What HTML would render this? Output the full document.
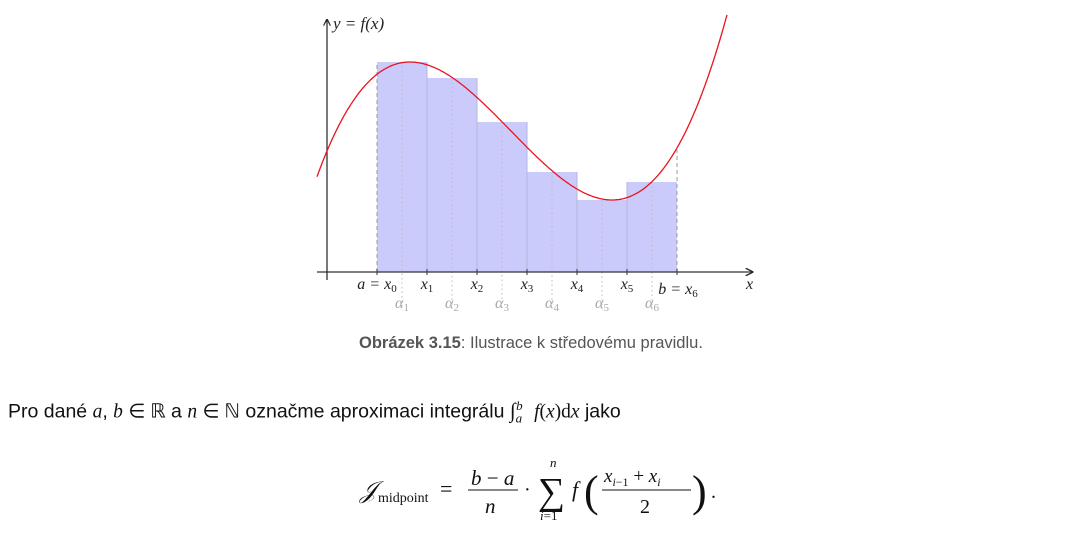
<!DOCTYPE html>
<html><head><meta charset="utf-8"><style>
body{margin:0;width:1076px;height:535px;background:#fff;overflow:hidden;position:relative;font-family:"Liberation Sans Narrow","Liberation Sans",sans-serif;}
.t{position:absolute;white-space:nowrap}
.m{font-family:"Liberation Serif",serif;font-style:italic}
.r{font-family:"Liberation Serif",serif;font-style:normal}
</style></head><body>
<svg id="chart" width="1076" height="330" style="position:absolute;left:0;top:0" font-family="Liberation Serif, serif">
<defs><marker id="ar" markerWidth="6" markerHeight="6" refX="5" refY="3" orient="auto"><path d="M0,0 L6,3 L0,6" fill="none" stroke="#222" stroke-width="1"/></marker></defs>
<g id="bars"></g><g id="grid"></g>
<line x1="317" y1="272" x2="752" y2="272" stroke="#333" stroke-width="1.3" marker-end="url(#ar)"/>
<line x1="327" y1="280" x2="327" y2="20" stroke="#222" stroke-width="1.2" marker-end="url(#ar)"/>
<path id="curve" fill="none" stroke="#e8141e" stroke-width="1.3"/>
<text x="333" y="29" font-size="17" font-style="italic" fill="#222">y = f(x)</text>
<text x="746" y="289" font-size="16" font-style="italic" fill="#222">x</text>
<g id="labels"></g>
</svg>
<div class="t" style="left:359px;top:334px;font-size:16.5px;color:#555"><b>Obrázek 3.15</b>: Ilustrace k středovému pravidlu.</div>
<div class="t" style="left:8px;top:398px;font-size:19.5px;color:#111">Pro dané <span class="m">a</span>, <span class="m">b</span> <span class="r">∈ ℝ</span> a <span class="m">n</span> <span class="r">∈ ℕ</span> označme aproximaci integrálu <span class="r" style="font-size:21px">∫</span><sub class="m" style="font-size:13px">a</sub><sup class="m" style="font-size:13px;position:relative;left:-6px">b</sup> <span class="m">f</span><span class="r">(</span><span class="m">x</span><span class="r">)d</span><span class="m">x</span> jako</div>
<svg width="400" height="80" style="position:absolute;left:340px;top:450px" font-family="Liberation Serif, serif" fill="#111">
<text x="20" y="48" font-size="24" font-style="italic">𝒥</text>
<text x="38" y="52" font-size="14">midpoint</text>
<text x="100" y="46" font-size="22">=</text>
<text x="131" y="35" font-size="21"><tspan font-style="italic">b</tspan> − <tspan font-style="italic">a</tspan></text>
<line x1="128" y1="40" x2="178" y2="40" stroke="#111" stroke-width="1"/>
<text x="145" y="63" font-size="21" font-style="italic">n</text>
<text x="184" y="46" font-size="20">·</text>
<text x="198" y="54" font-size="38">∑</text>
<text x="210" y="17" font-size="13" font-style="italic">n</text>
<text x="200" y="70" font-size="13"><tspan font-style="italic">i</tspan>=1</text>
<text x="232" y="47" font-size="22" font-style="italic">f</text>
<text x="244" y="56" font-size="44">(</text>
<text x="264" y="32" font-size="19"><tspan font-style="italic">x</tspan><tspan font-size="12" font-style="italic" dy="4">i</tspan><tspan font-size="12" dy="0">−1</tspan><tspan dy="-4"> + </tspan><tspan font-style="italic">x</tspan><tspan font-size="12" font-style="italic" dy="4">i</tspan></text>
<line x1="262" y1="40" x2="351" y2="40" stroke="#111" stroke-width="1"/>
<text x="300" y="63" font-size="20">2</text>
<text x="352" y="56" font-size="44">)</text>
<text x="371" y="48" font-size="20">.</text>
</svg>
<script>
const nodes=["x0","x1","x2","x3","x4","x5","x6"];
const nodeX=[1,2,3,4,5,6,7];
const midX=[1.5,2.5,3.5,4.5,5.5,6.5];
const barHeights=[4.2,3.88,3.0,2.0,1.44,1.8];
const ox=327,oy=272,s=50;
const X=v=>ox+v*s, Y=v=>oy-v*s;
const NS="http://www.w3.org/2000/svg";
const bars=document.getElementById('bars'),grid=document.getElementById('grid'),labels=document.getElementById('labels');
function mk(tag,attrs,parent){const e=document.createElementNS(NS,tag);for(const k in attrs)e.setAttribute(k,attrs[k]);parent.appendChild(e);return e;}
barHeights.forEach((h,i)=>{
 const r=mk('rect',{x:X(nodeX[i]),y:Y(h),width:X(nodeX[i+1])-X(nodeX[i]),height:oy-Y(h),fill:'#cbcbfb'},bars);
 
 
 const l=mk('line',{x1:X(midX[i]),y1:Y(h),x2:X(midX[i]),y2:oy+38,stroke:'#bbb','stroke-dasharray':'1.5 3','stroke-width':1},grid);
 
 
 const t=mk('text',{x:X(midX[i]),y:oy+36,'font-size':16,'font-style':'italic',fill:'#aaa','text-anchor':'middle'},labels);
 t.textContent='α';
 const sb=mk('tspan',{'font-size':11,dy:3,'font-style':'normal'},t);sb.textContent=String(i+1);
 
 
});
nodeX.forEach((v,i)=>{
 const l=mk('line',{x1:X(v),y1:oy,x2:X(v),y2:(i==0||i==6)?Y(i==0?barHeights[0]:2.44):Y(Math.max(barHeights[i-1],barHeights[i]||0)),stroke:(i==0||i==6)?'#999':'#b4b4dc','stroke-dasharray':(i==0||i==6)?'4 3':'none','stroke-width':1},grid);
 
 
 mk('line',{x1:X(v),y1:oy-3,x2:X(v),y2:oy+3,stroke:'#333'},grid);
 const pre=i==0?'a = ':(i==6?'b = ':'');
 const t=mk('text',{x:X(v)+(i==0?0:(i==6?1:0)),y:oy+(i==6?22:17),'font-size':16,'font-style':'italic',fill:'#222','text-anchor':'middle'},labels);
 t.textContent=pre+'x';
 const sb=mk('tspan',{'font-size':11,dy:3,'font-style':'normal'},t);sb.textContent=String(i);
 
 
});
const xmax=1.66,xmin=5.7,fmax=4.2,fmin=1.44;
const c=(xmax+xmin)/2,hw=(xmin-xmax)/2,amp=(fmax-fmin)/2,mid=(fmax+fmin)/2;
function f(x){const u=(x-c)/hw;return mid-amp*(1.5*u-0.5*u*u*u);}
let d='';for(let x=-0.2;x<=8.0;x+=0.02){const y=f(x);if(Y(y)<10)break;d+=(d?'L':'M')+X(x).toFixed(1)+','+Y(y).toFixed(1);}
document.getElementById('curve').setAttribute('d',d);
</script>
</body></html>
